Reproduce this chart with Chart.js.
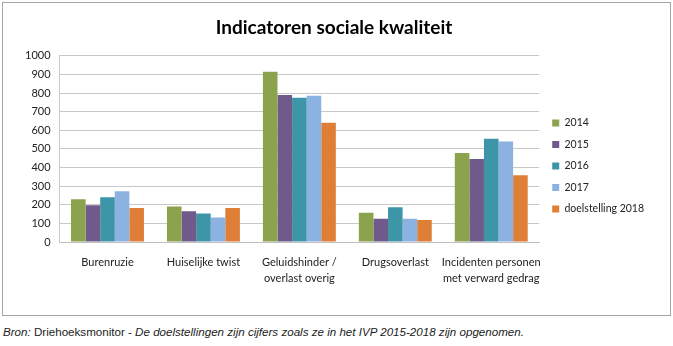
<!DOCTYPE html>
<html>
<head>
<meta charset="utf-8">
<script src="https://cdn.jsdelivr.net/npm/chart.js@4"></script>
<style>
  html, body { margin: 0; padding: 0; background: #fff; }
  #wrap { position: relative; width: 673px; height: 346px; }
  #box {
    position: absolute; left: 2px; top: 2px; width: 667px; height: 312px;
    border: 1px solid #a6a6a6;
  }
  #box canvas { position: absolute; left: 0; top: 0; }
  #note {
    position: absolute; left: 3px; top: 325px;
    font: 11.6px "Liberation Sans", Arial, sans-serif; color: #222;
    white-space: nowrap;
  }
</style>
</head>
<body>
<div id="wrap">
  <div id="box"><canvas id="chart" width="667" height="312"></canvas></div>
  <div id="note"><i>Bron:</i> Driehoeksmonitor - <i>De doelstellingen zijn cijfers zoals ze in het IVP 2015-2018 zijn opgenomen.</i></div>
</div>
<script>
  // categories and series
  var categories = [
    "Burenruzie",
    "Huiselijke twist",
    ["Geluidshinder /", "overlast overig"],
    "Drugsoverlast",
    ["Incidenten personen", "met verward gedrag"]
  ];
  var seriesNames = ["2014", "2015", "2016", "2017", "doelstelling 2018"];
  var values2014 = [230, 190, 915, 157, 478];
  var values2015 = [198, 165, 790, 125, 446];
  var values2016 = [240, 153, 775, 187, 555];
  var values2017 = [272, 132, 785, 125, 540];
  var values2018 = [182, 182, 640, 118, 358];
  var colors = ["#8ba34c", "#705a8c", "#3d96a8", "#8cb2e2", "#df7f37"];

  var allValues = [values2014, values2015, values2016, values2017, values2018];
  var font = "Lato, 'Open Sans', sans-serif";

  // Excel puts the legend a bit below the middle of the plot
  var legendShift = {
    id: "legendShift",
    afterLayout: function (chart) {
      var lg = chart.legend;
      if (!lg) return;
      lg.top += 19;
      lg.bottom += 19;
      lg.left += 2;
      lg.right += 2;
    }
  };

  new Chart(document.getElementById("chart"), {
    type: "bar",
    data: {
      labels: categories,
      datasets: allValues.map(function (vals, i) {
        return {
          label: seriesNames[i],
          data: vals,
          backgroundColor: colors[i],
          borderWidth: 0,
          barPercentage: 1,
          categoryPercentage: 0.76
        };
      })
    },
    options: {
      animation: false,
      responsive: false,
      layout: { padding: { left: 13, right: 18, top: 0, bottom: 24 } },
      plugins: {
        title: {
          display: true,
          text: "Indicatoren sociale kwaliteit",
          color: "#000",
          font: { family: font, size: 19, weight: "bold" },
          padding: { top: 13, bottom: 17 }
        },
        legend: {
          position: "right",
          align: "center",
          labels: {
            boxWidth: 7,
            boxHeight: 7,
            padding: 11,
            color: "#222",
            font: { family: font, size: 10.5 }
          }
        },
        tooltip: { enabled: false }
      },
      scales: {
        x: {
          grid: { display: false },
          border: { color: "#bfbfbf" },
          ticks: {
            autoSkip: false,
            color: "#222",
            font: { family: font, size: 11, lineHeight: 1.5 },
            maxRotation: 0,
            padding: 4
          }
        },
        y: {
          min: 0,
          max: 1000,
          ticks: {
            stepSize: 100,
            color: "#222",
            font: { family: font, size: 11 },
            padding: 9,
            callback: function (v) { return String(v); }
          },
          grid: { color: "#c8c8c8", drawTicks: false },
          border: { color: "#c8c8c8" }
        }
      }
    },
    plugins: [legendShift]
  });
</script>
</body>
</html>
